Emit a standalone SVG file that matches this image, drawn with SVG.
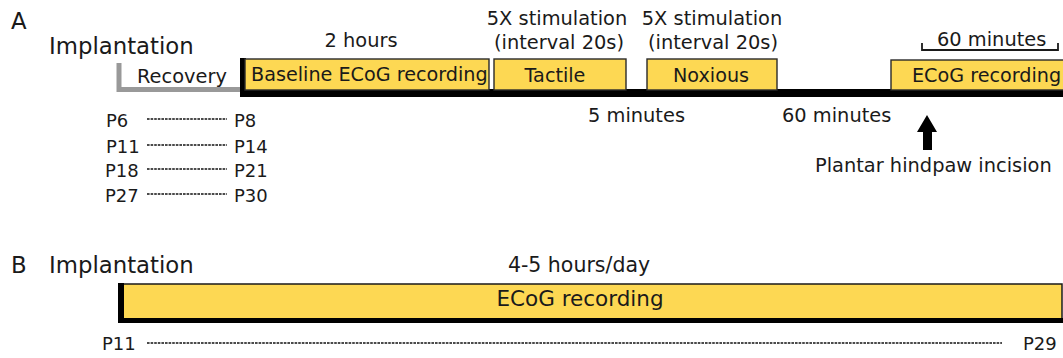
<svg xmlns="http://www.w3.org/2000/svg" width="1063" height="358" viewBox="0 0 1063 358">
<style>
text{font-family:"DejaVu Sans",Verdana,sans-serif;fill:#1a1a1a}
.big{font-size:22.8px}
.lbl{font-size:19.4px}
.p{font-size:18px}
.box{font-size:19.2px}
.bbox{font-size:21.5px}
.ybox{fill:#FDD853;stroke:#2a2a2a;stroke-width:1.4}
.dash{stroke:#111;stroke-width:1.6;stroke-dasharray:2.6 1;fill:none}
.mid{text-anchor:middle}
</style>
<g id="panelA">
<text x="11" y="29" class="big">A</text>
<text x="49" y="54" class="big">Implantation</text>
<g id="recovery">
<path d="M119 63 V89.5 H243" fill="none" stroke="#999" stroke-width="5"/>
<text x="137" y="83" class="lbl">Recovery</text>
</g>
<g id="timeline">
<rect x="240" y="89" width="823" height="8" fill="#000"/>
<rect x="240" y="58" width="6" height="39" fill="#000"/>
</g>
<g id="baseline">
<rect x="245" y="59" width="244" height="31" class="ybox"/>
<text x="251" y="81" class="box">Baseline ECoG recording</text>
<text x="361" y="47" class="lbl mid">2 hours</text>
</g>
<g id="tactile">
<rect x="494" y="59" width="132" height="31" class="ybox"/>
<text x="555" y="82" class="box mid">Tactile</text>
<text x="557" y="25" class="lbl mid">5X stimulation</text>
<text x="559" y="49" class="lbl mid">(interval 20s)</text>
</g>
<g id="noxious">
<rect x="647" y="59" width="130" height="31" class="ybox"/>
<text x="711" y="82" class="box mid">Noxious</text>
<text x="712" y="25" class="lbl mid">5X stimulation</text>
<text x="713" y="49" class="lbl mid">(interval 20s)</text>
</g>
<g id="ecogA">
<rect x="891" y="60" width="180" height="30" class="ybox"/>
<text x="912" y="82" class="box">ECoG recording</text>
<path d="M922 43 V50 H1058 V43" fill="none" stroke="#1a1a1a" stroke-width="1.8"/>
<text x="937" y="46" class="lbl">60 minutes</text>
</g>
<text x="588" y="122" class="lbl">5 minutes</text>
<text x="782" y="122" class="lbl">60 minutes</text>
<g id="incision">
<polygon points="927,115 917,132 923,132 923,150 932,150 932,132 937,132" fill="#000"/>
<text x="815" y="172" class="lbl">Plantar hindpaw incision</text>
</g>
<g id="ages">
<text x="106" y="127" class="p">P6</text>
<line x1="147" y1="119" x2="227" y2="119" class="dash"/>
<text x="234" y="127" class="p">P8</text>
<text x="106" y="153" class="p">P11</text>
<line x1="147" y1="145" x2="227" y2="145" class="dash"/>
<text x="234" y="153" class="p">P14</text>
<text x="105" y="177" class="p">P18</text>
<line x1="147" y1="169" x2="227" y2="169" class="dash"/>
<text x="234" y="177" class="p">P21</text>
<text x="105" y="202" class="p">P27</text>
<line x1="147" y1="194" x2="227" y2="194" class="dash"/>
<text x="234" y="202" class="p">P30</text>
</g>
</g>
<g id="panelB">
<text x="11" y="273" class="big">B</text>
<text x="49" y="273" class="big">Implantation</text>
<text x="579" y="272" class="lbl mid" style="font-size:20.5px">4-5 hours/day</text>
<g id="ecogB">
<rect x="119" y="284" width="943" height="38" fill="#FDD853" stroke="#1a1a1a" stroke-width="1.5"/>
<rect x="118" y="283" width="6" height="40" fill="#000"/>
<rect x="118" y="318" width="945" height="5" fill="#000"/>
<text x="580" y="306" class="bbox mid">ECoG recording</text>
</g>
<text x="102" y="350" class="p">P11</text>
<line x1="147" y1="343" x2="1002" y2="343" class="dash"/>
<text x="1023" y="350" class="p">P29</text>
</g>
</svg>
